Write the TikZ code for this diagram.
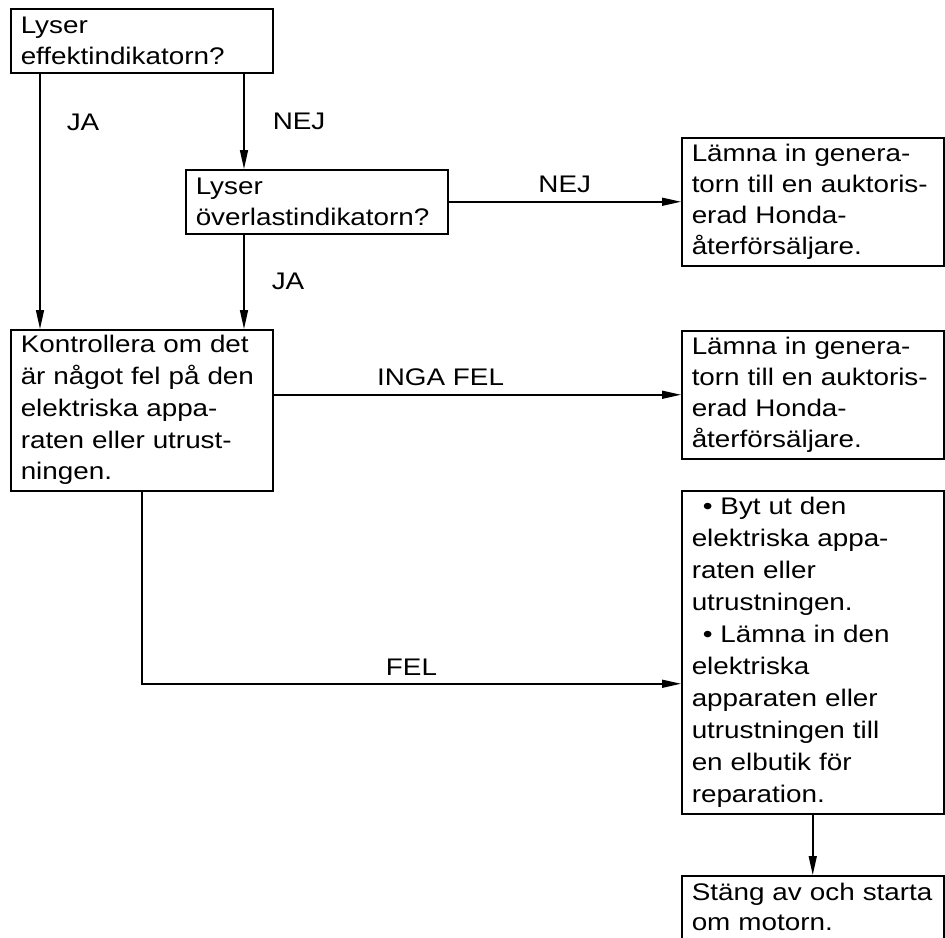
\documentclass[tikz,border=0pt]{standalone}
\usepackage{fontspec}
\setmainfont{Liberation Sans}[FakeStretch=1.16]
\usetikzlibrary{arrows.meta,positioning}
\tikzstyle{box}=[draw,line width=1.5pt,anchor=north west,inner xsep=10pt,inner ysep=0pt,text width=242pt,align=left]
\tikzstyle{arrow}=[-{Triangle[length=19pt,width=8pt]},line width=1.5pt]
\tikzstyle{lbl}=[inner sep=0pt]

\begin{document}
\begin{tikzpicture}[x=1pt,y=-1pt,font=\fontsize{24}{31}\selectfont]

	\useasboundingbox (0,0) rectangle (945,937);

	% questions
	\node[box,minimum height=64pt] (q1) at (10,8) {Lyser\\effektindikatorn?};
	\node[box,minimum height=64pt] (q2) at (185,169) {Lyser\\överlastindikatorn?};

	% check and the outcomes
	\node[box,minimum height=161pt,font=\fontsize{24}{31.75}\selectfont] (check) at (10,329)
		{Kontrollera om det\\är något fel på den\\elektriska appa-\\raten eller utrust-\\ningen.};
	\node[box,minimum height=128pt] (svc1) at (681,137)
		{Lämna in genera-\\torn till en auktoris-\\erad Honda-\\återförsäljare.};
	\node[box,minimum height=128pt] (svc2) at (681,330)
		{Lämna in genera-\\torn till en auktoris-\\erad Honda-\\återförsäljare.};
	\node[box,minimum height=323pt,font=\fontsize{24}{32}\selectfont] (fix) at (681,490)
		{\hspace*{11pt}\textbullet\hspace{8pt}Byt ut den\\elektriska appa-\\raten eller\\utrustningen.\\
		\hspace*{11pt}\textbullet\hspace{8pt}Lämna in den\\elektriska\\apparaten eller\\utrustningen till\\en elbutik för\\reparation.};
	\node[box,inner ysep=7pt,text depth=50pt,font=\fontsize{24}{30}\selectfont] (restart) at (681,875)
		{Stäng av och starta\\om motorn.};

	% connectors
	\coordinate (nej) at ([xshift=234pt]q1.south west);
	\draw[arrow] ([xshift=30pt]q1.south west) -- node[lbl,pos=0.19,right=26pt] {JA} ([xshift=30pt]check.north west);
	\draw[arrow] (nej) -- node[lbl,right=28pt] {NEJ} (nej |- q2.north);
	\draw[arrow] (nej |- q2.south) -- node[lbl,right=27pt] {JA} (nej |- check.north);
	\draw[arrow] (q2) -- node[lbl,above=8pt] {NEJ} (svc1);
	\draw[arrow] (check.east |- svc2) -- node[lbl,pos=0.41,above=8pt] {INGA FEL} (svc2);
	\draw[arrow] ([xshift=132pt]check.south west) |- node[lbl,pos=0.75,above=8pt] {FEL} ([yshift=-31.5pt]fix.west);
	\draw[arrow] (fix) -- (restart);
\end{tikzpicture}
\end{document}
